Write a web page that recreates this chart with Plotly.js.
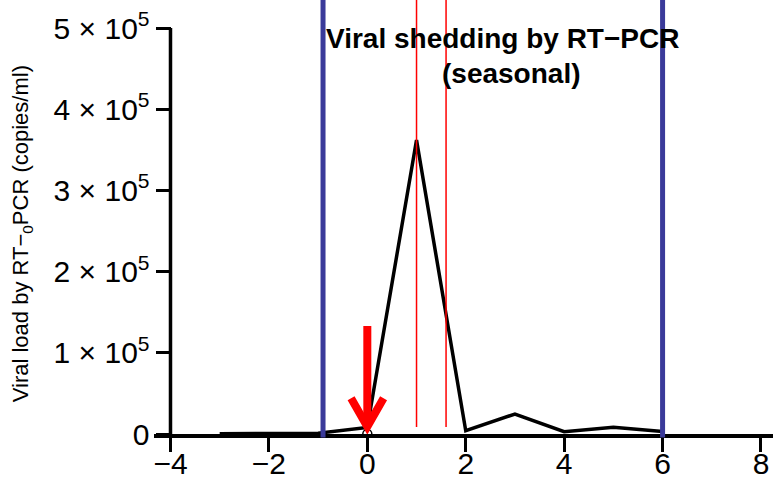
<!DOCTYPE html>
<html>
<head>
<meta charset="utf-8">
<script src="https://cdn.plot.ly/plotly-3.0.1.min.js"></script>
<style>html,body{margin:0;padding:0;background:#fff;}#chart{width:773px;height:477px;}</style>
</head>
<body>
<div id="chart"></div>
<script>
// Data
const days = [-3, -2, -1, 0, 1, 2, 3, 4, 5, 6];
const viralLoad = [300, 500, 1000, 8000, 362000, 4000, 24600, 2800, 8200, 3000];
const markerDays = [0];
const markerLoad = [0];
const blueLineDays = [-0.9, 6];
const redLineDays = [1, 1.6];
const xTickVals = [-4, -2, 0, 2, 4, 6, 8];
const yTickVals = [0, 100000, 200000, 300000, 400000, 500000];
const yTickText = ["0", "1 \u00d7 10<sup>5</sup>", "2 \u00d7 10<sup>5</sup>", "3 \u00d7 10<sup>5</sup>", "4 \u00d7 10<sup>5</sup>", "5 \u00d7 10<sup>5</sup>"];
const titleLine1 = "Viral shedding by RT\u2212PCR";
const titleLine2 = "(seasonal)";
const yTitle = "Viral load by RT\u2212<sub>0</sub>PCR (copies/ml)";

const FONT = "Liberation Sans, Arial, sans-serif";
const X_RANGE = [-4.335, 8.244];
const shapes = [];
blueLineDays.forEach(d => shapes.push({type:'line', xref:'x', yref:'paper', x0:d, x1:d, y0:-0.008, y1:1, line:{color:'#3a3a9a', width:5}}));
redLineDays.forEach(d => shapes.push({type:'line', xref:'x', yref:'paper', x0:d, x1:d, y0:0.016, y1:1, line:{color:'#ff0000', width:1.5}}));
// y axis line at x = -4
shapes.push({type:'line', xref:'x', yref:'y', x0:xTickVals[0], x1:xTickVals[0], y0:0, y1:yTickVals[yTickVals.length-1], line:{color:'#000', width:3.5}});
// red arrow at day 0
const arrowX = 0, arrowTop = 133000, arrowTip = 9000, headTop = 44000, headHalf = 0.33;
shapes.push({type:'line', xref:'x', yref:'y', x0:arrowX, x1:arrowX, y0:arrowTop, y1:arrowTip+8000, line:{color:'#ff0000', width:8}});
shapes.push({type:'path', xref:'x', yref:'y', path:`M ${arrowX-headHalf},${headTop} L ${arrowX},${arrowTip} L ${arrowX+headHalf},${headTop}`, line:{color:'#ff0000', width:8}});

const traces = [
  {x: days, y: viralLoad, mode:'lines', line:{color:'#000', width:3.5}, hoverinfo:'skip', showlegend:false},
  {x: markerDays, y: markerLoad, mode:'markers', marker:{symbol:'circle-open', size:9, color:'#000', line:{width:1.5}}, showlegend:false},
  {x: [], y: [], xaxis:'x2', yaxis:'y', mode:'lines', showlegend:false, hoverinfo:'skip'}
];

const layout = {
  width:773, height:477,
  margin:{l:154, r:0, t:0, b:43, pad:0},
  paper_bgcolor:'#fff', plot_bgcolor:'#fff',
  font:{family:FONT, color:'#000'},
  showlegend:false,
  xaxis:{range:X_RANGE, showgrid:false, zeroline:false, showline:true, linewidth:3.5, linecolor:'#000',
    ticks:'', tickvals:xTickVals, tickfont:{size:30, family:FONT}, ticklabelstandoff:0},
  xaxis2:{range:X_RANGE, overlaying:'x', anchor:'y', side:'bottom', showgrid:false, zeroline:false, showline:false,
    ticks:'outside', ticklen:17, tickwidth:3, tickcolor:'#000', tickvals:xTickVals, showticklabels:false},
  yaxis:{range:[0, 534480], anchor:'free', position:0.0267, showgrid:false, zeroline:false, showline:false,
    ticks:'outside', ticklen:15, tickwidth:3, tickcolor:'#000', tickvals:yTickVals, ticktext:yTickText, tickfont:{size:30, family:FONT}},
  shapes: shapes,
  annotations:[
    {text:'<b>'+titleLine1+'</b>', xref:'paper', yref:'paper', x:0.5622, y:0.9124, xanchor:'center', yanchor:'middle', showarrow:false, font:{size:28, family:FONT, color:'#000'}},
    {text:'<b>'+titleLine2+'</b>', xref:'paper', yref:'paper', x:0.578, y:0.8295, xanchor:'center', yanchor:'middle', showarrow:false, font:{size:28, family:FONT, color:'#000'}},
    {text:yTitle, xref:'paper', yref:'paper', x:-0.212, y:0.462, xanchor:'center', yanchor:'middle', textangle:-90, showarrow:false, font:{size:22, family:FONT, color:'#000'}}
  ]
};
Plotly.newPlot('chart', traces, layout, {staticPlot:true, displayModeBar:false});
</script>
</body>
</html>
